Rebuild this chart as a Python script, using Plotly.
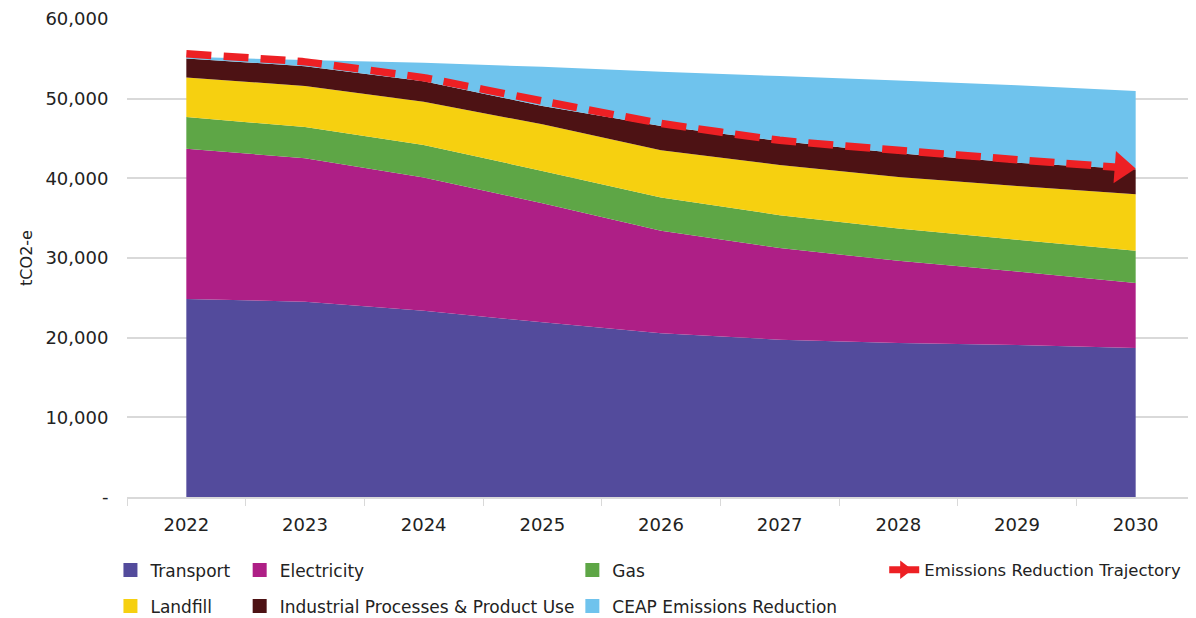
import plotly.graph_objects as go

years = ["2022", "2023", "2024", "2025", "2026", "2027", "2028", "2029", "2030"]
transport = [24850, 24510, 23380, 21920, 20540, 19750, 19340, 19080, 18710]
electricity = [18870, 18010, 16710, 14960, 12870, 11490, 10310, 9230, 8140]
gas = [3970, 3920, 4100, 4050, 4170, 4140, 4050, 3970, 4050]
landfill = [4980, 5140, 5420, 5850, 5940, 6300, 6480, 6770, 7110]
ippu = [2380, 2500, 2590, 2290, 3050, 3010, 2970, 2920, 3130]
ceap = [200, 760, 2300, 4930, 6800, 8140, 9140, 9700, 9810]
trajectory = [55630, 54620, 52620, 49700, 46900, 44770, 43520, 42340, 41220]

y_ticks = [0, 10000, 20000, 30000, 40000, 50000, 60000]
y_ticktext = ["-", "10,000", "20,000", "30,000", "40,000", "50,000", "60,000"]

series = [
    ("Transport", transport, "#534b9c", "legend", "a"),
    ("Electricity", electricity, "#ae1f86", "legend2", "a"),
    ("Gas", gas, "#5ea646", "legend3", "a"),
    ("Landfill", landfill, "#f6d010", "legend", "b"),
    ("Industrial Processes & Product Use", ippu, "#4d1214", "legend2", "b"),
    ("CEAP Emissions Reduction", ceap, "#6fc3ed", "legend3", "b"),
]

FONT = "DejaVu Sans"
fig = go.Figure()

for name, vals, col, lg, grp in series:
    fig.add_trace(go.Scatter(
        x=years, y=vals, name=name, stackgroup="one", mode="none",
        fillcolor=col, line=dict(width=0), showlegend=False,
    ))

# legend-only square markers
for name, vals, col, lg, grp in series:
    fig.add_trace(go.Scatter(
        x=[None], y=[None], name=name, mode="markers",
        marker=dict(symbol="square", size=14, color=col),
        legend=lg, legendgroup=grp, showlegend=True,
    ))

# trajectory line with arrow head at the end
sizes = [0] * (len(years) - 1) + [28]
fig.add_trace(go.Scatter(
    x=years, y=trajectory, name="Emissions Reduction Trajectory",
    mode="lines+markers",
    line=dict(color="#ed2024", width=7.5, dash="25px,12px", shape="spline", smoothing=0.3),
    marker=dict(symbol="triangle-up", size=sizes, color="#ed2024", opacity=1,
                angleref="previous", standoff=14, line=dict(width=0)),
    showlegend=False,
))
fig.add_trace(go.Scatter(
    x=[None], y=[None], name="Emissions Reduction Trajectory",
    mode="lines+markers",
    line=dict(color="#ed2024", width=7, dash="solid"),
    marker=dict(symbol="triangle-right", size=18, color="#ed2024", opacity=1),
    legend="legend4", showlegend=True,
))

legend_common = dict(
    orientation="v", yanchor="top", xanchor="left",
    bgcolor="rgba(0,0,0,0)", tracegroupgap=11, itemsizing="trace",
)
lfont = dict(family=FONT, size=17, color="#222222")

# page body has an 8px default margin, so the figure is drawn 8px in from the corner
fig.update_layout(
    width=1188, height=610,
    margin=dict(l=119, r=1, t=11, b=121, autoexpand=False),
    paper_bgcolor="white", plot_bgcolor="white",
    font=dict(family=FONT, size=18, color="#222222"),
    xaxis=dict(
        type="category", range=[-0.5, 8.5], tickson="boundaries",
        ticks="outside", ticklen=7, tickcolor="#d9d9d9",
        showline=True, linecolor="#d9d9d9", linewidth=1.5,
        showgrid=False, automargin=False, ticklabelstandoff=11,
        tickfont=dict(family=FONT, size=18, color="#222222"),
    ),
    yaxis=dict(
        range=[0, 60000], tickvals=y_ticks, ticktext=y_ticktext,
        showgrid=True, gridcolor="#d9d9d9", gridwidth=1.5,
        zeroline=False, showline=False, automargin=False,
        ticks="outside", ticklen=14, tickcolor="rgba(0,0,0,0)",
        tickfont=dict(family=FONT, size=18, color="#222222"),
        title=dict(text="tCO2-e", font=dict(family=FONT, size=16, color="#222222"), standoff=8),
    ),
    legend=dict(x=-0.0155, y=-0.116, font=lfont, **legend_common),
    legend2=dict(x=0.1055, y=-0.116, font=lfont, **legend_common),
    legend3=dict(x=0.417, y=-0.116, font=lfont, **legend_common),
    legend4=dict(x=0.709, y=-0.116, font=dict(family=FONT, size=16.5, color="#222222"), **legend_common),
)

fig.write_html("out.html")
